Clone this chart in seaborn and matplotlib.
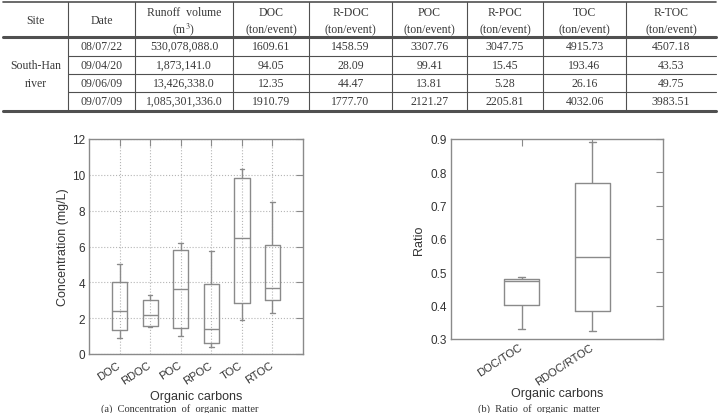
import numpy as np
import pandas as pd
import seaborn as sns
import matplotlib.pyplot as plt

# ---- table values (South-Han river events) ----
table_site = ['South-Han', 'river']
table_dates = ['08/07/22', '09/04/20', '09/06/09', '09/07/09']
table_runoff = ['530,078,088.0', '1,873,141.0', '13,426,338.0', '1,085,301,336.0']
table_doc = ['1609.61', '94.05', '12.35', '1910.79']
table_rdoc = ['1458.59', '28.09', '44.47', '1777.70']
table_poc = ['3307.76', '99.41', '13.81', '2121.27']
table_rpoc = ['3047.75', '15.45', '5.28', '2205.81']
table_toc = ['4915.73', '193.46', '26.16', '4032.06']
table_rtoc = ['4507.18', '43.53', '49.75', '3983.51']
header_top = ['Site', 'Date', 'Runoff  volume', 'DOC', 'R-DOC', 'POC', 'R-POC', 'TOC', 'R-TOC']
header_bottom = ['', '', '(m$^3$)'] + ['(ton/event)'] * 6

# ---- (a) concentration boxes: min, q1, median, q3, max (mg/L) ----
conc_categories = ['DOC', 'RDOC', 'POC', 'RPOC', 'TOC', 'RTOC']
conc_min = [0.90, 1.49, 1.03, 0.39, 1.92, 2.29]
conc_q1 = [1.32, 1.55, 1.46, 0.62, 2.82, 2.99]
conc_med = [2.39, 2.16, 3.64, 1.42, 6.49, 3.69]
conc_q3 = [4.01, 3.00, 5.78, 3.88, 9.80, 6.08]
conc_max = [5.00, 3.32, 6.21, 5.75, 10.35, 8.50]

# ---- (b) ratio boxes ----
ratio_categories = ['DOC/TOC', 'RDOC/RTOC']
ratio_min = [0.329, 0.325]
ratio_q1 = [0.402, 0.383]
ratio_med = [0.473, 0.545]
ratio_q3 = [0.480, 0.769]
ratio_max = [0.486, 0.892]


def long_form(cats, *cols):
    rows = []
    for i, c in enumerate(cats):
        for col in cols:
            rows.append((c, col[i]))
    return pd.DataFrame(rows, columns=['carbon', 'value'])


conc_df = long_form(conc_categories, conc_min, conc_q1, conc_med, conc_q3, conc_max)
ratio_df = long_form(ratio_categories, ratio_min, ratio_q1, ratio_med, ratio_q3, ratio_max)

sns.set_style('white')
plt.rcParams['font.family'] = ['Liberation Sans', 'DejaVu Sans']
plt.rcParams['mathtext.fontset'] = 'stix'

line_gray = '#8a8a8a'
text_gray = '#333333'
table_font = dict(family='Liberation Serif', fontsize=8.5, color='#3a3a3a', ha='center', va='center')

fig = plt.figure(figsize=(7.21, 4.14), dpi=100)

# background axes in pixel coordinates for the table and captions
bg = fig.add_axes([0, 0, 1, 1])
bg.set_xlim(0, 721)
bg.set_ylim(414, 0)
bg.axis('off')

col_edges = [3, 68, 135, 233, 309, 392, 467, 543, 626, 716]
row_centers = [47, 66, 84, 102]
col_centers = [(a + b) / 2 for a, b in zip(col_edges[:-1], col_edges[1:])]

tc = '#505050'
bg.plot([3, 716], [3, 3], color=tc, lw=1.2)
bg.plot([3, 716], [38, 38], color=tc, lw=2.2)
bg.plot([3, 716], [112, 112], color=tc, lw=2.2)
for y in (57, 75, 93):
    bg.plot([68, 716], [y, y], color=tc, lw=0.8)
for x in col_edges[1:-1]:
    bg.plot([x, x], [3, 112], color=tc, lw=0.8)

for i, cx in enumerate(col_centers):
    if header_bottom[i]:
        bg.text(cx, 13, header_top[i], **table_font)
        bg.text(cx, 30, header_bottom[i], **table_font)
    else:
        bg.text(cx, 21, header_top[i], **table_font)

bg.text(col_centers[0], 66, table_site[0], **table_font)
bg.text(col_centers[0], 84, table_site[1], **table_font)
columns = [table_dates, table_runoff, table_doc, table_rdoc, table_poc,
           table_rpoc, table_toc, table_rtoc]
for j, col in enumerate(columns):
    for r, val in enumerate(col):
        bg.text(col_centers[j + 1], row_centers[r], val, **table_font)

cap_font = dict(family='Liberation Serif', fontsize=7.5, color='#333333', ha='center', va='bottom')
bg.text(180, 414, '(a)  Concentration  of  organic  matter', **cap_font)
bg.text(539, 414, '(b)  Ratio  of  organic  matter', **cap_font)

# ---- plot axes ----
ax1 = fig.add_axes([89 / 721, 1 - 355 / 414, 214 / 721, 215 / 414])
ax2 = fig.add_axes([451 / 721, 1 - 340 / 414, 212 / 721, 200 / 414])

box_kw = dict(fill=False, color=line_gray, width=0.5, whis=(0, 100),
              linewidth=1.0, showfliers=False)
sns.boxplot(data=conc_df, x='carbon', y='value', order=conc_categories,
            ax=ax1, capwidths=0.15, **box_kw)
sns.boxplot(data=ratio_df, x='carbon', y='value', order=ratio_categories,
            ax=ax2, capwidths=0.1, **box_kw)

ax1.set_xlim(-1, 6)
ax1.set_ylim(0, 12)
ax1.set_yticks(np.arange(0, 13, 2))
ax1.grid(True, linestyle=':', color='#b5b5b5', linewidth=0.8)
ax1.set_axisbelow(True)
ax1.set_ylabel('Concentration (mg/L)', fontsize=9, color=text_gray, labelpad=2)

ax2.set_xlim(-1, 2)
ax2.set_ylim(0.3, 0.9)
ax2.set_yticks(np.arange(0.3, 0.91, 0.1))
ax2.set_yticklabels(['0.3', '0.4', '0.5', '0.6', '0.7', '0.8', '0.9'])
ax2.grid(False)
ax2.set_ylabel('Ratio', fontsize=9, color=text_gray, labelpad=4)

for ax in (ax1, ax2):
    for s in ax.spines.values():
        s.set_color(line_gray)
        s.set_linewidth(1.0)
    ax.tick_params(direction='in', length=5, color=line_gray, top=True, right=True,
                   labelsize=8.5, labelcolor=text_gray, pad=3)
    plt.setp(ax.get_xticklabels(), rotation=33, ha='right', va='center',
             rotation_mode='anchor', fontsize=8)

ax1.tick_params(axis='x', pad=7)
ax2.tick_params(axis='x', pad=5)
ax1.set_xlabel('Organic carbons', fontsize=9, color=text_gray, labelpad=3)
ax2.set_xlabel('Organic carbons', fontsize=9, color=text_gray, labelpad=0)

fig.savefig('out.png', dpi=100)
